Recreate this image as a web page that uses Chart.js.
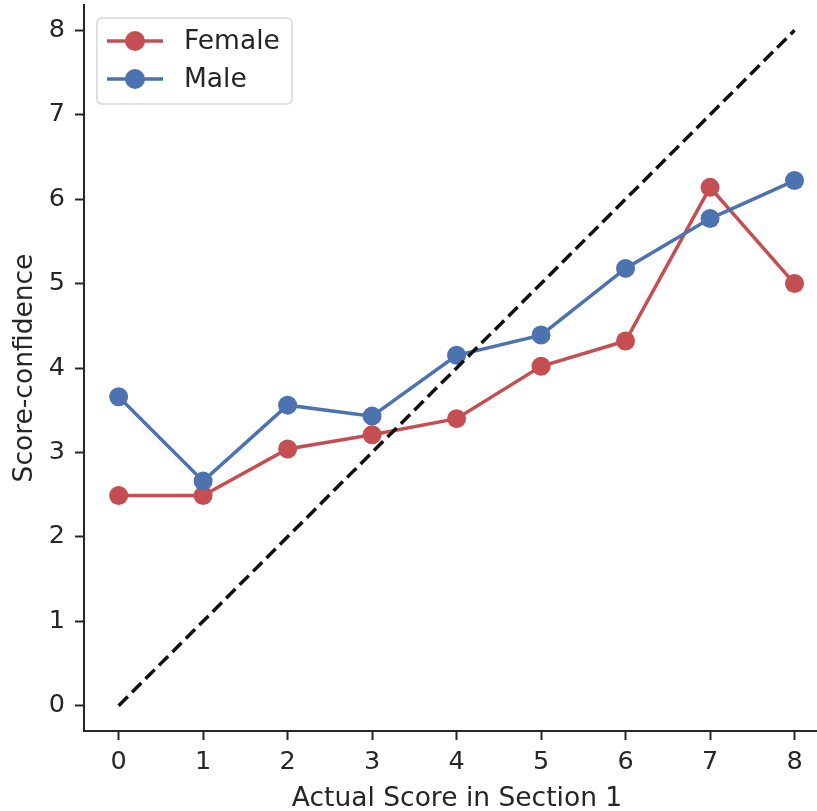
<!DOCTYPE html>
<html>
<head>
<meta charset="utf-8">
<script src="https://cdn.jsdelivr.net/npm/chart.js@4.4.0/dist/chart.umd.min.js"></script>
<style>
  html, body { margin: 0; padding: 0; background: #fff; overflow: hidden; }
  #wrap { position: absolute; left: 0; top: 0; width: 830px; height: 811px; }
</style>
</head>
<body>
<div id="wrap"><canvas id="chart" width="830" height="811"></canvas></div>
<script>
// Data
const actualScores = [0, 1, 2, 3, 4, 5, 6, 7, 8];
const femaleConfidence = [2.49, 2.49, 3.04, 3.21, 3.40, 4.02, 4.32, 6.14, 5.00];
const maleConfidence = [3.66, 2.66, 3.56, 3.43, 4.15, 4.39, 5.18, 5.77, 6.22];
const parityLine = [0, 8];
const xTicks = [0, 1, 2, 3, 4, 5, 6, 7, 8];
const yTicks = [0, 1, 2, 3, 4, 5, 6, 7, 8];

const RED = '#C44E52';
const BLUE = '#4C72B0';
const INK = '#262626';
const FONT = '"DejaVu Sans", sans-serif';

const toPoints = (xs, ys) => xs.map((x, i) => ({ x: x, y: ys[i] }));

// legend drawn inside the axes, like matplotlib's upper left legend
const insideLegend = {
    id: 'insideLegend',
    afterDraw(chart) {
        const ctx = chart.ctx;
        const items = chart.data.datasets.filter(d => d.label);
        const x0 = 97, y0 = 18, w = 195, h = 86;
        ctx.save();
        ctx.beginPath();
        ctx.roundRect(x0, y0, w, h, 5);
        ctx.fillStyle = 'rgba(255,255,255,0.85)';
        ctx.fill();
        ctx.lineWidth = 1.5;
        ctx.strokeStyle = '#d6d6d6';
        ctx.stroke();
        items.forEach((d, i) => {
            const cy = 41 + i * 38;
            ctx.beginPath();
            ctx.moveTo(107, cy);
            ctx.lineTo(163, cy);
            ctx.strokeStyle = d.borderColor;
            ctx.lineWidth = 3.5;
            ctx.stroke();
            ctx.beginPath();
            ctx.arc(135, cy, 10, 0, Math.PI * 2);
            ctx.fillStyle = d.borderColor;
            ctx.fill();
            ctx.fillStyle = INK;
            ctx.font = '26.5px ' + FONT;
            ctx.textAlign = 'left';
            ctx.textBaseline = 'middle';
            ctx.fillText(d.label, 184, cy + 1);
        });
        ctx.restore();
    }
};

new Chart(document.getElementById('chart'), {
    type: 'line',
    data: {
        datasets: [
            {
                label: 'Female',
                data: toPoints(actualScores, femaleConfidence),
                borderColor: RED,
                backgroundColor: RED,
                borderWidth: 3.5,
                pointRadius: 9.5,
                pointHoverRadius: 9.5,
                pointBorderWidth: 0,
                clip: false,
                order: 2
            },
            {
                label: 'Male',
                data: toPoints(actualScores, maleConfidence),
                borderColor: BLUE,
                backgroundColor: BLUE,
                borderWidth: 3.5,
                pointRadius: 9.5,
                pointHoverRadius: 9.5,
                pointBorderWidth: 0,
                clip: false,
                order: 1
            },
            {
                label: '',
                data: toPoints(parityLine, parityLine),
                borderColor: '#111',
                borderWidth: 3.5,
                borderDash: [13, 6],
                pointRadius: 0,
                order: 0
            }
        ]
    },
    options: {
        responsive: false,
        animation: false,
        events: [],
        layout: { autoPadding: false, padding: { top: 5, left: 0, right: 0, bottom: 0 } },
        plugins: {
            legend: { display: false },
            tooltip: { enabled: false }
        },
        scales: {
            x: {
                type: 'linear',
                min: -0.41,
                max: 8.42,
                afterFit(scale) {
                    scale.height = 80;
                    scale.paddingLeft = 0;
                    scale.paddingRight = 0;
                },
                afterBuildTicks(scale) { scale.ticks = xTicks.map(v => ({ value: v })); },
                grid: { drawOnChartArea: false, drawTicks: true, tickLength: 9, tickWidth: 2, color: INK },
                border: { display: true, color: INK, width: 2 },
                ticks: { color: INK, font: { family: FONT, size: 25.5 }, padding: 7 },
                title: {
                    display: true,
                    text: 'Actual Score in Section 1',
                    color: INK,
                    font: { family: FONT, size: 26.5 },
                    padding: { top: 0, bottom: -4 }
                }
            },
            y: {
                min: -0.30,
                max: 8.30,
                afterFit(scale) {
                    scale.width = 84;
                    scale.paddingTop = 0;
                    scale.paddingBottom = 0;
                },
                afterBuildTicks(scale) { scale.ticks = yTicks.map(v => ({ value: v })); },
                grid: { drawOnChartArea: false, drawTicks: true, tickLength: 9, tickWidth: 2, color: INK },
                border: { display: true, color: INK, width: 2 },
                ticks: { color: INK, font: { family: FONT, size: 25.5 }, padding: 10 },
                title: {
                    display: true,
                    text: 'Score-confidence',
                    color: INK,
                    font: { family: FONT, size: 26.5 },
                    padding: { top: 9, bottom: 0 }
                }
            }
        }
    },
    plugins: [insideLegend]
});
</script>
</body>
</html>
